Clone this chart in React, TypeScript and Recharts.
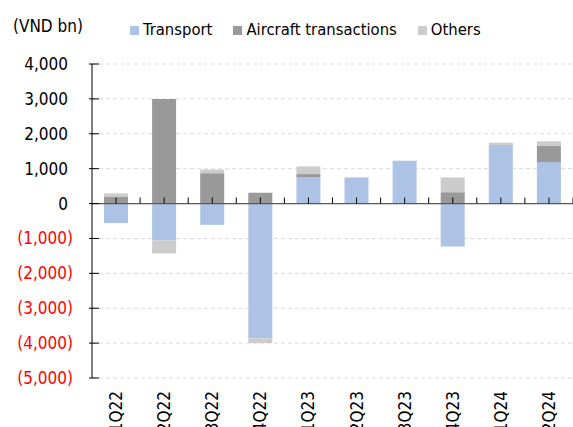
import React from 'react';
import { BarChart, Bar, XAxis, YAxis, CartesianGrid, ReferenceLine } from 'recharts';

const quarters = ['1Q22', '2Q22', '3Q22', '4Q22', '1Q23', '2Q23', '3Q23', '4Q23', '1Q24', '2Q24'];
const transport = [-560, -1060, -610, -3860, 750, 750, 1230, -1230, 1680, 1190];
const aircraft = [200, 3000, 870, 310, 95, 0, 0, 325, 0, 470];
const others = [90, -370, 105, -140, 220, 0, 0, 425, 65, 125];
const yTicks = [-5000, -4000, -3000, -2000, -1000, 0, 1000, 2000, 3000, 4000];

const FONT = "'DejaVu Sans Condensed', 'DejaVu Sans', sans-serif";

const COLORS = {
  transport: '#adc3e6',
  aircraft: '#999999',
  others: '#cccccc',
};

const series = [
  { key: 'transport', name: 'Transport', color: COLORS.transport },
  { key: 'aircraft', name: 'Aircraft transactions', color: COLORS.aircraft },
  { key: 'others', name: 'Others', color: COLORS.others },
];

const data = quarters.map((q, i) => ({
  quarter: q,
  transport: transport[i],
  aircraft: aircraft[i],
  others: others[i],
}));

// y tick: excel style cross tick + accounting format (negatives red in brackets)
const YTick = (props: any) => {
  const { x, y, payload } = props;
  const v = payload.value as number;
  const neg = v < 0;
  const label = neg ? `(${Math.abs(v).toLocaleString('en-US')})` : v.toLocaleString('en-US');
  return (
    <g>
      <line x1={x - 3} x2={x + 7} y1={y} y2={y} stroke="#000" />
      <text
        x={neg ? x - 19 : x - 24}
        y={y}
        dy="0.35em"
        textAnchor="end"
        fill={neg ? '#ff0000' : '#000'}
        fontSize={17}
        fontFamily={FONT}
      >
        {label}
      </text>
    </g>
  );
};

const XTick = (props: any) => {
  const { x, y, payload } = props;
  return (
    <text
      transform={`translate(${x},${y + 13}) rotate(-90)`}
      textAnchor="end"
      dy="0.35em"
      fill="#000"
      fontSize={17}
      fontFamily={FONT}
    >
      {payload.value}
    </text>
  );
};

// zero line with the little tick marks (major + minor) pointing up
const ZeroLine = (props: any) => {
  const { x1, y1, x2 } = props;
  const step = (x2 - x1) / (quarters.length * 2);
  const marks = [];
  for (let k = 1; k <= quarters.length * 2; k++) {
    const tx = x1 + step * k;
    marks.push(<line key={k} x1={tx} x2={tx} y1={y1 - 6} y2={y1} stroke="#000" />);
  }
  return (
    <g>
      <line x1={x1} x2={x2} y1={y1} y2={y1} stroke="#595959" strokeWidth={1.2} />
      {marks}
    </g>
  );
};

const App: React.FC = () => {
  return (
    <div style={{ position: 'absolute', left: 0, top: 0, width: 573, height: 427, fontFamily: FONT, background: '#fff' }}>
      <div style={{ position: 'absolute', left: 13, top: 18, fontSize: 17, lineHeight: '17px', color: '#000' }}>
        (VND bn)
      </div>
      <div
        style={{
          position: 'absolute',
          left: 130,
          top: 21,
          display: 'flex',
          gap: 21,
          fontSize: 16.5,
          lineHeight: '17px',
          color: '#000',
        }}
      >
        {series.map((s) => (
          <div key={s.key} style={{ display: 'flex', alignItems: 'flex-start' }}>
            <span style={{ display: 'inline-block', width: 9, height: 9, background: s.color, marginTop: 5, marginRight: 4 }} />
            <span>{s.name}</span>
          </div>
        ))}
      </div>
      <BarChart
        width={573}
        height={427}
        data={data}
        stackOffset="sign"
        margin={{ top: 64, right: 0, left: 0, bottom: 0 }}
      >
        <CartesianGrid vertical={false} stroke="#d9d9d9" strokeDasharray="4 3" />
        <XAxis
          dataKey="quarter"
          height={49}
          axisLine={false}
          tickLine={false}
          tickSize={0}
          tickMargin={0}
          interval={0}
          tick={<XTick />}
        />
        <YAxis
          width={92}
          domain={[-5000, 4000]}
          ticks={yTicks}
          interval={0}
          axisLine={{ stroke: '#000' }}
          tickLine={false}
          tickSize={0}
          tickMargin={0}
          tick={<YTick />}
        />
        {series.map((s) => (
          <Bar
            key={s.key}
            dataKey={s.key}
            name={s.name}
            stackId="a"
            fill={s.color}
            barSize={24}
            isAnimationActive={false}
          />
        ))}
        <ReferenceLine y={0} shape={<ZeroLine />} />
      </BarChart>
    </div>
  );
};

export default App;
